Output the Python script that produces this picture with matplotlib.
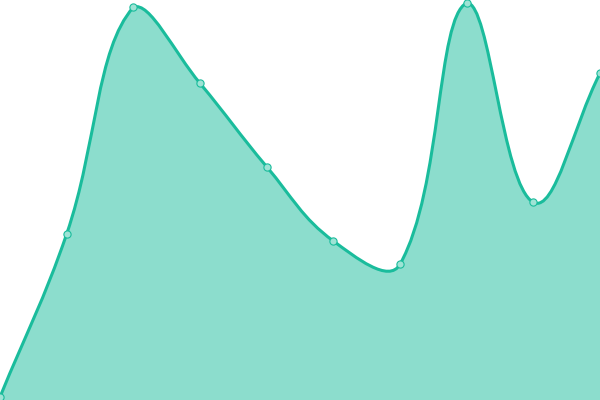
import numpy as np
import matplotlib
matplotlib.use('Agg')
import matplotlib.pyplot as plt
from matplotlib.path import Path
from matplotlib.patches import PathPatch

# values (height in px above the bottom of a 400 px area)
xs = np.arange(10)
values = [3, 166, 392.7, 316.7, 233.3, 159, 135.7, 397, 197.7, 326.7]

line_color = '#1abc9c'
fill_color = (26/255, 188/255, 156/255, 0.5)
point_fill = '#9ee3d5'
tension = 0.4

W, H = 600, 400
sx = W / (len(xs) - 1)   # px per x unit, y is 1 px per unit


def spline_controls(xv, yv, t):
    # control points like a chart.js line with tension, distances in pixel space
    n = len(xv)
    prev_c = []
    next_c = []
    for i in range(n):
        p0 = (xv[max(i - 1, 0)], yv[max(i - 1, 0)])
        p1 = (xv[i], yv[i])
        p2 = (xv[min(i + 1, n - 1)], yv[min(i + 1, n - 1)])
        d01 = np.hypot((p1[0] - p0[0]) * sx, p1[1] - p0[1])
        d12 = np.hypot((p2[0] - p1[0]) * sx, p2[1] - p1[1])
        s01 = d01 / (d01 + d12) if d01 + d12 else 0
        s12 = d12 / (d01 + d12) if d01 + d12 else 0
        fa, fb = t * s01, t * s12
        pc = (p1[0] - fa * (p2[0] - p0[0]), p1[1] - fa * (p2[1] - p0[1]))
        nc = (p1[0] + fb * (p2[0] - p0[0]), p1[1] + fb * (p2[1] - p0[1]))
        # keep control points inside the chart area
        pc = (min(max(pc[0], 0), n - 1), min(max(pc[1], 0), H))
        nc = (min(max(nc[0], 0), n - 1), min(max(nc[1], 0), H))
        prev_c.append(pc)
        next_c.append(nc)
    return prev_c, next_c


prev_c, next_c = spline_controls(xs, values, tension)

verts = [(xs[0], values[0])]
codes = [Path.MOVETO]
for i in range(len(xs) - 1):
    verts += [next_c[i], prev_c[i + 1], (xs[i + 1], values[i + 1])]
    codes += [Path.CURVE4] * 3
line_path = Path(verts, codes)

fill_verts = [(xs[0], 0)] + verts + [(xs[-1], 0), (xs[0], 0)]
fill_codes = [Path.MOVETO, Path.LINETO] + codes[1:] + [Path.LINETO, Path.CLOSEPOLY]
fill_path = Path(fill_verts, fill_codes)

fig = plt.figure(figsize=(6, 4), dpi=100)
ax = fig.add_axes([0, 0, 1, 1])
ax.set_xlim(0, len(xs) - 1)
ax.set_ylim(0, H)
ax.axis('off')

ax.add_patch(PathPatch(fill_path, facecolor=fill_color, edgecolor='none'))
ax.add_patch(PathPatch(line_path, facecolor='none', edgecolor=line_color, lw=2.2,
                       joinstyle='round', capstyle='round'))
ax.plot(xs, values, 'o', ls='', ms=5.2, mfc=point_fill, mec=line_color, mew=0.8)

fig.savefig('out.png', dpi=100)
